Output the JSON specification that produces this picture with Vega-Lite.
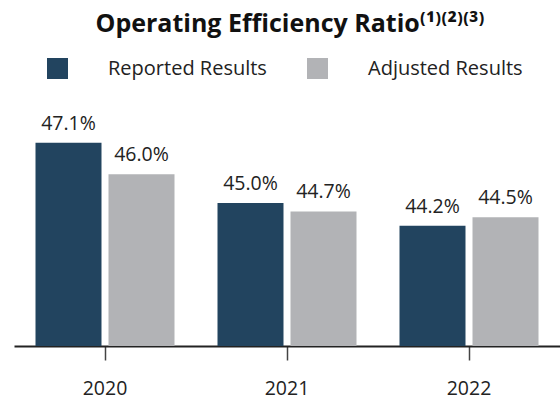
{
  "$schema": "https://vega.github.io/schema/vega-lite/v6.json",
  "width": 546,
  "height": 229,
  "padding": {"left": 14, "right": 0, "top": 12, "bottom": 0},
  "background": "white",
  "title": {
    "text": "Operating Efficiency Ratio⁽¹⁾⁽²⁾⁽³⁾",
    "font": "Open Sans",
    "fontSize": 25,
    "fontWeight": "bold",
    "color": "#111111",
    "anchor": "middle",
    "dx": 3,
    "offset": 21
  },
  "data": {
    "values": [
      {"year": "2020", "type": "Reported Results", "value": 47.1, "label": "47.1%"},
      {"year": "2020", "type": "Adjusted Results", "value": 46.0, "label": "46.0%"},
      {"year": "2021", "type": "Reported Results", "value": 45.0, "label": "45.0%"},
      {"year": "2021", "type": "Adjusted Results", "value": 44.7, "label": "44.7%"},
      {"year": "2022", "type": "Reported Results", "value": 44.2, "label": "44.2%"},
      {"year": "2022", "type": "Adjusted Results", "value": 44.5, "label": "44.5%"}
    ]
  },
  "encoding": {
    "x": {
      "field": "year",
      "type": "nominal",
      "scale": {"paddingInner": 0, "paddingOuter": 0},
      "axis": {
        "title": null,
        "labelAngle": 0,
        "labelFont": "Open Sans",
        "labelFontSize": 19.5,
        "labelColor": "#222222",
        "labelPadding": 19,
        "domainColor": "#222222",
        "domainWidth": 2,
        "tickColor": "#444444",
        "tickWidth": 1.5,
        "tickSize": 14,
        "grid": false
      }
    },
    "xOffset": {
      "field": "type",
      "type": "nominal",
      "sort": ["Reported Results", "Adjusted Results"],
      "scale": {"paddingInner": 0.0959, "paddingOuter": 0.2945}
    }
  },
  "layer": [
    {
      "mark": {"type": "bar", "clip": false},
      "encoding": {
        "y": {
          "field": "value",
          "type": "quantitative",
          "scale": {"domain": [40, 48], "zero": false, "nice": false},
          "axis": null
        },
        "y2": {"datum": 40},
        "color": {
          "field": "type",
          "type": "nominal",
          "scale": {"domain": ["Reported Results", "Adjusted Results"], "range": ["#22445f", "#b2b3b6"]},
          "legend": {
            "title": null,
            "orient": "none",
            "direction": "horizontal",
            "legendX": 33,
            "legendY": -59,
            "symbolType": "square",
            "symbolSize": 441,
            "symbolStrokeWidth": 0,
            "symbolOpacity": 1,
            "labelFont": "Open Sans",
            "labelFontSize": 20,
            "labelColor": "#222222",
            "labelOffset": 40,
            "columnPadding": 40,
            "padding": 0
          }
        }
      }
    },
    {
      "mark": {"type": "text", "dy": -13, "baseline": "alphabetic", "font": "Open Sans", "fontSize": 19.5, "color": "#222222"},
      "encoding": {
        "y": {"field": "value", "type": "quantitative"},
        "text": {"field": "label"}
      }
    }
  ],
  "config": {"view": {"stroke": null}}
}
